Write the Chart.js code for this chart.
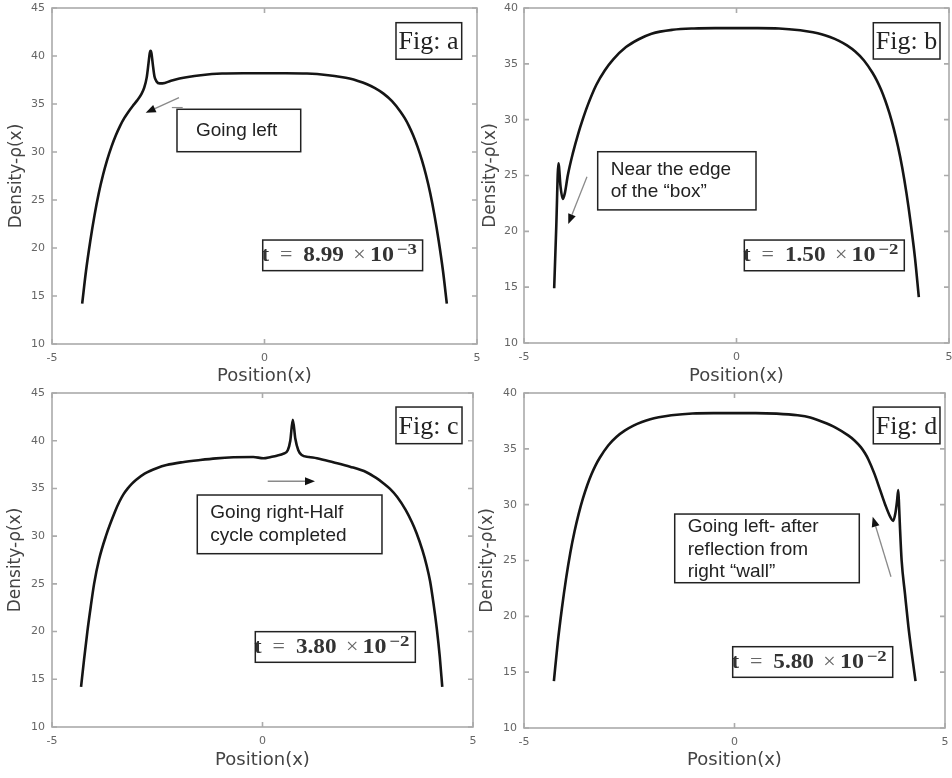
<!DOCTYPE html>
<html><head><meta charset="utf-8">
<script src="https://cdn.jsdelivr.net/npm/chart.js@4/dist/chart.umd.min.js"></script>
<style>
body{margin:0;background:#fff;width:952px;height:778px;position:relative;overflow:hidden}
canvas{position:absolute}
</style></head><body>
<canvas id="ca" width="480" height="390" style="left:0;top:0"></canvas>
<canvas id="cb" width="476" height="390" style="left:476px;top:0"></canvas>
<canvas id="cc" width="480" height="393" style="left:0;top:385px"></canvas>
<canvas id="cd" width="476" height="393" style="left:476px;top:385px"></canvas>
<script>
// ---------- data ----------
const xTicks = [-5, 0, 5];
const yTicksA = [10, 15, 20, 25, 30, 35, 40, 45];
const yTicksB = [10, 15, 20, 25, 30, 35, 40];

const xA = [-4.29,-4.2,-4.1,-4.0,-3.9,-3.8,-3.7,-3.6,-3.5,-3.4,-3.3,-3.2,-3.1,-3.0,-2.9,-2.83,-2.77,-2.73,-2.7,-2.68,-2.66,-2.63,-2.59,-2.54,-2.47,-2.4,-2.2,-2.0,-1.8,-1.5,-1.0,-0.5,0,0.5,1.0,1.5,1.8,2.0,2.2,2.4,2.6,2.8,3.0,3.2,3.3,3.4,3.5,3.6,3.7,3.8,3.9,4.0,4.1,4.2,4.29];
const yA = [14.2,17.6,20.7,23.4,25.7,27.6,29.2,30.56,31.72,32.7,33.52,34.2,34.8,35.35,36.0,36.7,37.8,39.2,40.3,40.55,40.3,39.2,37.9,37.35,37.15,37.15,37.42,37.65,37.82,38.0,38.17,38.2,38.2,38.2,38.17,38.0,37.82,37.65,37.4,37.08,36.65,36.08,35.3,34.2,33.52,32.7,31.72,30.56,29.2,27.6,25.7,23.4,20.7,17.6,14.2];

const xB = [-4.29,-4.24,-4.19,-4.14,-4.09,-4.04,-3.97,-3.85,-3.72,-3.62,-3.5,-3.3,-3.1,-2.9,-2.6,-2.3,-2.0,-1.5,-1.0,-0.5,0,0.5,1.0,1.5,1.8,2.0,2.2,2.4,2.6,2.8,3.0,3.2,3.3,3.4,3.5,3.6,3.7,3.8,3.9,4.0,4.1,4.2,4.29];
const yB = [14.9,20.5,26.1,24.0,22.9,23.4,25.0,27.0,28.8,30.0,31.3,33.1,34.4,35.4,36.5,37.2,37.7,38.05,38.17,38.2,38.2,38.2,38.17,38.0,37.82,37.65,37.4,37.08,36.65,36.08,35.3,34.2,33.52,32.7,31.72,30.56,29.2,27.6,25.7,23.4,20.7,17.6,14.1];

const xC = [-4.31,-4.24,-4.16,-4.08,-4.0,-3.88,-3.72,-3.5,-3.4,-3.3,-3.2,-3.1,-3.0,-2.8,-2.5,-2.28,-1.9,-1.48,-1.1,-0.69,-0.22,0.02,0.2,0.34,0.5,0.6,0.66,0.72,0.78,0.85,0.93,1.1,1.29,1.68,2.08,2.47,2.7,2.87,3.03,3.2,3.4,3.55,3.66,3.8,3.9,3.98,4.06,4.14,4.21,4.27];
const yC = [14.2,17.0,20.0,22.6,25.0,27.6,30.0,32.6,33.6,34.4,35.0,35.5,35.9,36.55,37.15,37.45,37.75,37.98,38.15,38.26,38.3,38.16,38.3,38.43,38.65,39.0,40.0,42.2,40.2,39.0,38.5,38.3,38.16,37.74,37.28,36.7,36.1,35.55,34.95,34.1,32.75,31.45,30.3,28.5,26.9,25.3,23.0,20.3,17.4,14.2];

const xD = [-4.29,-4.2,-4.1,-4.0,-3.9,-3.8,-3.7,-3.6,-3.5,-3.4,-3.3,-3.2,-3.0,-2.8,-2.6,-2.4,-2.2,-2.0,-1.8,-1.5,-1.0,-0.5,0,0.5,1.0,1.5,1.8,2.1,2.4,2.7,2.85,3.0,3.1,3.18,3.32,3.46,3.58,3.7,3.77,3.82,3.86,3.89,3.91,3.93,3.97,4.05,4.13,4.21,4.3];
const yD = [14.2,17.6,20.7,23.4,25.7,27.6,29.2,30.56,31.72,32.7,33.52,34.2,35.3,36.08,36.65,37.08,37.4,37.65,37.82,38.0,38.17,38.2,38.2,38.2,38.15,38.0,37.8,37.4,36.9,36.2,35.75,35.15,34.6,34.05,32.8,31.3,30.0,28.9,28.55,29.2,30.3,31.3,29.8,28.0,25.0,22.0,19.1,16.7,14.2];

const figLabels = ['Fig: a', 'Fig: b', 'Fig: c', 'Fig: d'];
const noteA = ['Going left'];
const noteB = ['Near the edge', 'of the \u201cbox\u201d'];
const noteC = ['Going right-Half', 'cycle completed'];
const noteD = ['Going left- after', 'reflection from', 'right \u201cwall\u201d'];
const timeMantissa = ['8.99', '1.50', '3.80', '5.80'];
const timeExponent = ['\u22123', '\u22122', '\u22122', '\u22122'];
const xTitle = 'Position(x)';
const yTitle = 'Density-\u03c1(x)';

// ---------- layout / annotation placement (data coordinates) ----------
const panels = [
  {id:'ca', xs:xA, ys:yA, yMax:45, yTicks:yTicksA, yW:52, padR:3, xH:46, xtPad:2.4, ytPad:6.8, yLabPad:7,
   fig:figLabels[0], figBox:[3.094,43.47,4.64,39.66], note:noteA, noteBox:[-2.059,34.45,0.852,30.03], notePad:19, noteOff:0,
   arrows:[[-2.012,35.66,-2.795,34.09]], dash:[-2.18,-1.925,34.63], tBox:[-0.042,20.83,3.72,17.64], tm:timeMantissa[0], te:timeExponent[0]},
  {id:'cb', xs:xB, ys:yB, yMax:40, yTicks:yTicksB, yW:48, padR:3, xH:47, xtPad:2.4, ytPad:4.8, yLabPad:6,
   fig:figLabels[1], figBox:[3.219,38.68,4.788,35.43], note:noteB, noteBox:[-3.266,27.13,0.459,21.92], notePad:13, noteOff:0,
   arrows:[[-3.518,24.89,-3.958,20.65]], dash:null, tBox:[0.184,19.22,3.948,16.47], tm:timeMantissa[1], te:timeExponent[1]},
  {id:'cc', xs:xC, ys:yC, yMax:45, yTicks:yTicksA, yW:52, padR:7, xH:51, xtPad:6.7, ytPad:5.6, yLabPad:7,
   fig:figLabels[2], figBox:[3.171,43.53,4.739,39.69], note:noteC, noteBox:[-1.549,34.31,2.838,28.16], notePad:13, noteOff:0,
   arrows:[[0.124,35.75,1.247,35.75]], dash:null, tBox:[-0.171,19.99,3.63,16.78], tm:timeMantissa[2], te:timeExponent[2]},
  {id:'cd', xs:xD, ys:yD, yMax:40, yTicks:yTicksB, yW:48, padR:7, xH:50, xtPad:6.7, ytPad:1.5, yLabPad:7,
   fig:figLabels[3], figBox:[3.297,38.74,4.881,35.45], note:noteD, noteBox:[-1.42,29.16,2.964,23.01], notePad:13, noteOff:1,
   arrows:[[3.717,23.55,3.283,28.92]], dash:null, tBox:[-0.043,17.28,3.758,14.54], tm:timeMantissa[3], te:timeExponent[3]}
];

function drawArrow(ctx, x1, y1, x2, y2) {
  const ang = Math.atan2(y2 - y1, x2 - x1);
  const len = 10, hw = 4;
  const bx = x2 - len * Math.cos(ang), by = y2 - len * Math.sin(ang);
  ctx.save();
  ctx.strokeStyle = '#8a8a8a'; ctx.lineWidth = 1.3;
  ctx.beginPath(); ctx.moveTo(x1, y1); ctx.lineTo(bx, by); ctx.stroke();
  ctx.fillStyle = '#111';
  ctx.beginPath();
  ctx.moveTo(x2, y2);
  ctx.lineTo(bx + hw * Math.sin(ang), by - hw * Math.cos(ang));
  ctx.lineTo(bx - hw * Math.sin(ang), by + hw * Math.cos(ang));
  ctx.closePath(); ctx.fill();
  ctx.restore();
}

function wideText(ctx, s, x, y, k) {
  ctx.save(); ctx.translate(x, y); ctx.scale(k, 1); ctx.fillText(s, 0, 0); ctx.restore();
}

function makePlugin(p) {
  return {
    id: 'deco' + p.id,
    afterDraw(chart) {
      const ctx = chart.ctx;
      const {left, top, right, bottom} = chart.chartArea;
      const sx = chart.scales.x, sy = chart.scales.y;
      const X = v => sx.getPixelForValue(v), Y = v => sy.getPixelForValue(v);
      ctx.save();
      // frame and inward ticks
      ctx.strokeStyle = '#ababab'; ctx.lineWidth = 1.6;
      ctx.strokeRect(left, top, right - left, bottom - top);
      ctx.beginPath();
      sy.ticks.forEach(t => { const yy = Y(t.value);
        ctx.moveTo(left, yy); ctx.lineTo(left + 5, yy);
        ctx.moveTo(right, yy); ctx.lineTo(right - 5, yy); });
      sx.ticks.forEach(t => { const xx = X(t.value);
        ctx.moveTo(xx, bottom); ctx.lineTo(xx, bottom - 5);
        ctx.moveTo(xx, top); ctx.lineTo(xx, top + 5); });
      ctx.stroke();

      // Fig box
      let [a1, b1, a2, b2] = p.figBox;
      let L = X(a1), T = Y(b1), R = X(a2), B = Y(b2);
      ctx.fillStyle = '#222'; ctx.font = "26px 'Liberation Serif'";
      ctx.textBaseline = 'alphabetic'; ctx.textAlign = 'left';
      ctx.fillText(p.fig, L + 2.5, B - 10);
      ctx.strokeStyle = '#222'; ctx.lineWidth = 1.5;
      ctx.strokeRect(L, T, R - L, B - T);

      // note box
      [a1, b1, a2, b2] = p.noteBox;
      L = X(a1); T = Y(b1); R = X(a2); B = Y(b2);
      ctx.font = "19px 'Liberation Sans'"; ctx.textBaseline = 'middle'; ctx.fillStyle = '#222';
      const n = p.note.length, lh = 22.7, cy = (T + B) / 2 + p.noteOff;
      p.note.forEach((s, i) => ctx.fillText(s, L + p.notePad, cy + (i - (n - 1) / 2) * lh));
      ctx.strokeRect(L, T, R - L, B - T);

      // arrows
      p.arrows.forEach(a => drawArrow(ctx, X(a[0]), Y(a[1]), X(a[2]), Y(a[3])));
      if (p.dash) {
        ctx.strokeStyle = '#8a8a8a'; ctx.lineWidth = 1.2;
        ctx.beginPath(); ctx.moveTo(X(p.dash[0]), Y(p.dash[2])); ctx.lineTo(X(p.dash[1]), Y(p.dash[2])); ctx.stroke();
      }

      // time box
      [a1, b1, a2, b2] = p.tBox;
      L = X(a1); T = Y(b1); R = X(a2); B = Y(b2);
      const base = (T + B) / 2 + 6;
      ctx.textBaseline = 'alphabetic'; ctx.fillStyle = '#333';
      ctx.font = "bold 20px 'Liberation Serif'";
      wideText(ctx, 't', L - 1, base, 1.1);
      wideText(ctx, p.tm, L + 40.6, base, 1.16);
      wideText(ctx, '10', L + 107.3, base, 1.2);
      ctx.fillStyle = '#666'; ctx.font = "22px 'Liberation Serif'";
      ctx.fillText('=', L + 17.3, base);
      ctx.fillText('\u00d7', L + 90.6, base);
      ctx.fillStyle = '#333'; ctx.font = "bold 15px 'Liberation Serif'";
      wideText(ctx, p.te, L + 134, base - 7, 1.25);
      ctx.strokeStyle = '#222'; ctx.lineWidth = 1.5;
      ctx.strokeRect(L, T, R - L, B - T);
      ctx.restore();
    }
  };
}

panels.forEach(p => {
  new Chart(document.getElementById(p.id), {
    type: 'line',
    data: { datasets: [{
      data: p.xs.map((x, i) => ({x: x, y: p.ys[i]})),
      borderColor: '#151515', borderWidth: 2.6, pointRadius: 0,
      cubicInterpolationMode: 'monotone', fill: false
    }]},
    options: {
      responsive: false, animation: false, devicePixelRatio: 1,
      layout: { padding: { top: 8, right: p.padR, left: 0, bottom: 0 } },
      plugins: { legend: { display: false }, tooltip: { enabled: false } },
      scales: {
        x: {
          type: 'linear', min: -5, max: 5,
          afterBuildTicks: s => { s.ticks = xTicks.map(v => ({value: v})); },
          afterFit: s => { s.height = p.xH; s.paddingLeft = 0; s.paddingRight = 0; },
          grid: { display: false, drawTicks: false }, border: { display: false },
          ticks: { padding: 8, autoSkip: false, maxRotation: 0, color: '#666',
                   font: { family: 'DejaVu Sans', size: 11 }, callback: v => String(v) },
          title: { display: true, text: xTitle, color: '#444',
                   font: { family: 'DejaVu Sans', size: 18 }, padding: { top: 0, bottom: p.xtPad } }
        },
        y: {
          type: 'linear', min: 10, max: p.yMax,
          afterBuildTicks: s => { s.ticks = p.yTicks.map(v => ({value: v})); },
          afterFit: s => { s.width = p.yW; s.paddingTop = 0; s.paddingBottom = 0; },
          grid: { display: false, drawTicks: false }, border: { display: false },
          ticks: { padding: p.yLabPad, autoSkip: false, color: '#666',
                   font: { family: 'DejaVu Sans', size: 11 }, callback: v => String(v) },
          title: { display: true, text: yTitle, color: '#444',
                   font: { family: 'DejaVu Sans', size: 17 }, padding: { top: p.ytPad, bottom: 0 } }
        }
      }
    },
    plugins: [makePlugin(p)]
  });
});
</script>
</body></html>
